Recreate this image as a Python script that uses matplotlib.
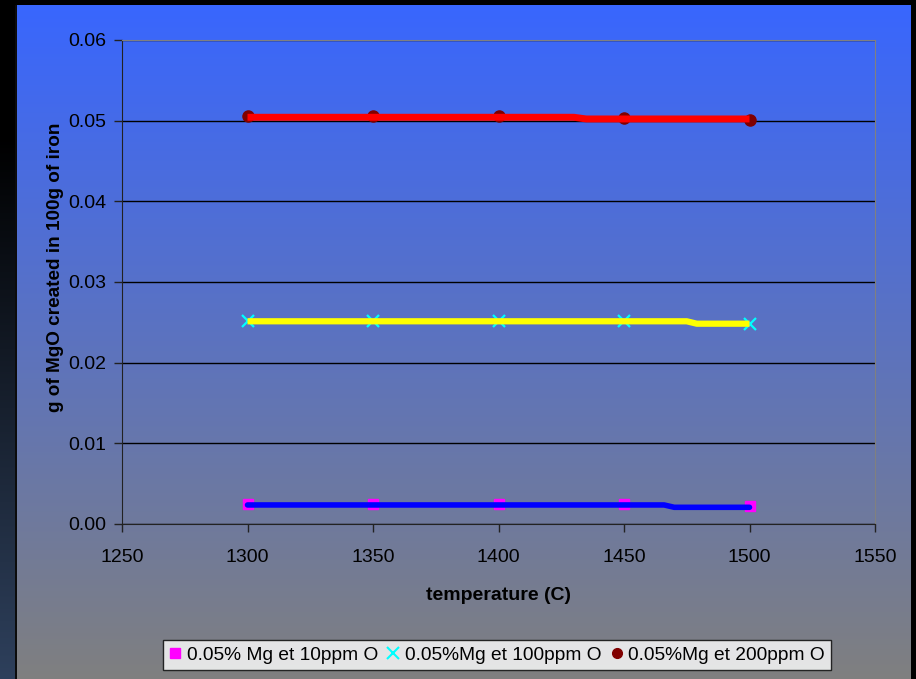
import numpy as np
import matplotlib.pyplot as plt
from matplotlib.lines import Line2D

plt.rcParams['font.family'] = ['Liberation Sans', 'DejaVu Sans']

# measured points
temps = [1300, 1350, 1400, 1450, 1500]
mg_10ppm = [0.00244, 0.00244, 0.00244, 0.00244, 0.00219]
mg_100ppm = [0.02513, 0.02513, 0.02513, 0.02513, 0.02483]
mg_200ppm = [0.05058, 0.05058, 0.05062, 0.05036, 0.05012]

# calculated curves
calc_temps_10 = [1300, 1466, 1470, 1500]
calc_10 = [0.00236, 0.00236, 0.00207, 0.00207]
calc_temps_100 = [1300, 1475, 1479, 1500]
calc_100 = [0.02513, 0.02513, 0.02483, 0.02483]
calc_temps_200 = [1300, 1430, 1435, 1500]
calc_200 = [0.05042, 0.05042, 0.05021, 0.05021]

labels = ['0.05% Mg et 10ppm O', '0.05%Mg et 100ppm O', '0.05%Mg et 200ppm O']

W, H = 916, 679
fig = plt.figure(figsize=(W / 100, H / 100), dpi=100)

# slide background: blue to grey gradient with dark frame
bg = np.zeros((H, W, 3))
t = np.linspace(0, 1, H)[:, None]
top = np.array([0.22, 0.40, 1.0])
bot = np.array([0.50, 0.50, 0.50])
bg[:, :, :] = (top * (1 - t) + bot * t)[:, None, :].reshape(H, 1, 3)
s = np.clip((np.linspace(0, 1, H) - 0.2) / 0.8, 0, 1)[:, None]
left = (np.array([0.0, 0.0, 0.0]) * (1 - s) + np.array([0.18, 0.25, 0.36]) * s)
bg[:, :16, :] = left[:, None, :]
bg[:, 15:17, :] = 0.05
bg[:5, :, :] = 0.0
bg[:, 911:, :] = 0.0
bgax = fig.add_axes([0, 0, 1, 1], zorder=-5)
bgax.imshow(bg, aspect='auto', extent=[0, W, H, 0])
bgax.axis('off')

ax = fig.add_axes([122 / W, 1 - 524 / H, (875 - 122) / W, (524 - 40) / H])
ax.patch.set_alpha(0)

ax.plot(temps, mg_10ppm, 's', color='#FF00FF', ms=7, zorder=3)
ax.plot(temps, mg_100ppm, 'x', color='#00FFFF', ms=9, mew=1.6, zorder=3)
ax.plot(temps, mg_200ppm, 'o', color='#800000', ms=8, zorder=3)

ax.plot(calc_temps_10, calc_10, color='#0000FF', lw=4, solid_capstyle='round', zorder=4)
ax.plot(calc_temps_100, calc_100, color='#FFFF00', lw=4.5, solid_capstyle='butt', zorder=4)
ax.plot(calc_temps_200, calc_200, color='#FF0000', lw=5, solid_capstyle='butt', zorder=4)

ax.set_xlim(1250, 1550)
ax.set_ylim(0, 0.06)
ax.set_xticks(np.arange(1250, 1551, 50))
ax.set_yticks(np.arange(0, 0.061, 0.01))
ax.set_yticklabels(['%.2f' % v for v in np.arange(0, 0.061, 0.01)])
ax.grid(axis='y', color='black', lw=1)
ax.set_axisbelow(True)
ax.tick_params(axis='both', labelsize=14, color='#222222', length=6, width=1, pad=5)
ax.tick_params(axis='x', pad=12)
for side in ['top', 'right']:
    ax.spines[side].set_color('#808080')
for side in ['left', 'bottom']:
    ax.spines[side].set_color('#222222')

ax.set_xlabel('temperature (C)', fontsize=14, fontweight='bold', labelpad=15)
ax.set_ylabel('g of MgO created in 100g of iron', fontsize=13.7, fontweight='bold')
ax.yaxis.set_label_coords(-0.077, 0.531)

handles = [
    Line2D([], [], ls='', marker='s', color='#FF00FF', ms=7),
    Line2D([], [], ls='', marker='x', color='#00FFFF', ms=8, mew=1.5),
    Line2D([], [], ls='', marker='o', color='#800000', ms=7),
]
leg = fig.legend(handles, labels, loc='center', bbox_to_anchor=(497 / W, 1 - 655 / H), ncol=3,
                 fontsize=13.8, frameon=True, fancybox=False, edgecolor='black',
                 handlelength=0.6, handletextpad=0.3, columnspacing=0.5, borderpad=0.35)
leg.get_frame().set_linewidth(1)

fig.savefig('out.png', dpi=100)
